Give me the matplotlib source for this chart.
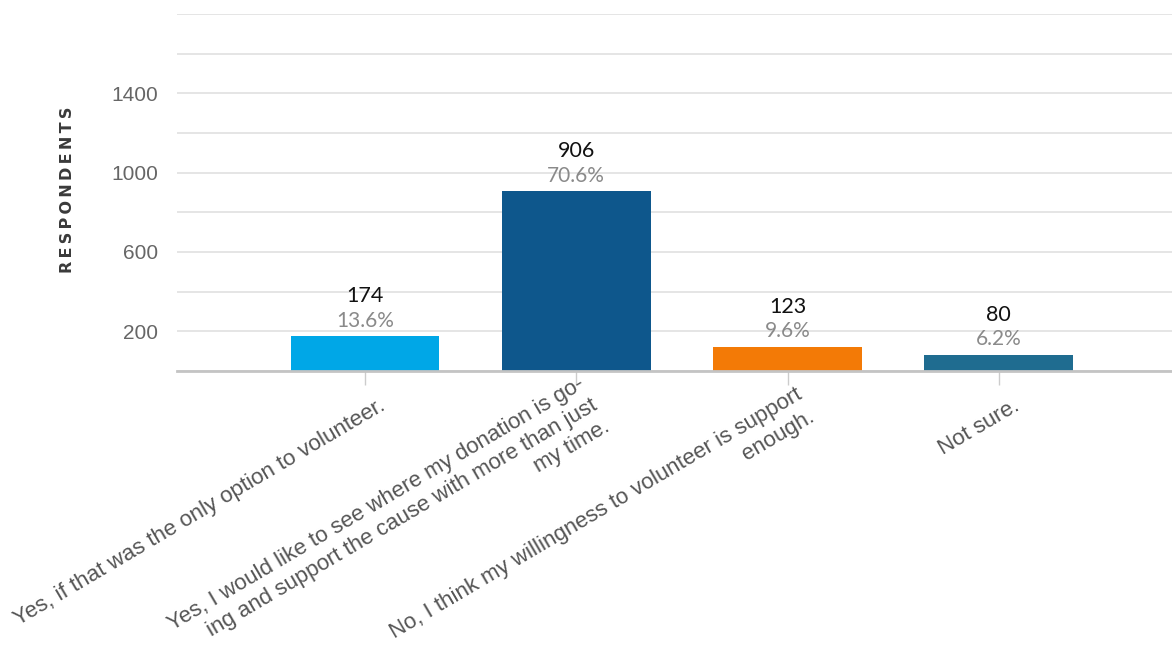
import matplotlib.pyplot as plt
import numpy as np

# survey answers and counts
answers = [
    "Yes, if that was the only option to volunteer.",
    "Yes, I would like to see where my donation is go-\ning and support the cause with more than just\nmy time.",
    "No, I think my willingness to volunteer is support\nenough.",
    "Not sure.",
]
counts = [174, 906, 123, 80]
shares = ["13.6%", "70.6%", "9.6%", "6.2%"]
colors = ["#00a7e7", "#0e578c", "#f37a06", "#1f6c90"]

fig = plt.figure(figsize=(11.72, 6.54), dpi=100)
ax = fig.add_axes([0.151, 0.4327, 0.849, 0.546])

x = np.arange(len(counts))
ax.bar(x, counts, width=0.705, color=colors, zorder=3)

ax.set_ylim(0, 1800)
ax.set_xlim(-0.89, 3.82)
ax.set_yticks(np.arange(0, 1801, 200), minor=True)
ax.set_yticks([200, 600, 1000, 1400])
ax.set_yticklabels(["200", "600", "1000", "1400"], family="Liberation Sans")
ax.grid(axis="y", which="both", color="#dedede", linewidth=1.1, zorder=0)
ax.tick_params(axis="y", which="both", length=0, pad=13.7, labelsize=15, labelcolor="#666666")

for s in ["top", "right", "left"]:
    ax.spines[s].set_visible(False)
ax.spines["bottom"].set_color("#c4c4c4")
ax.spines["bottom"].set_linewidth(2)
ax.spines["bottom"].set_zorder(4)

# category labels: rotated, block centred a bit right of and below each tick
ax.set_xticks(x)
ax.set_xticklabels([])
ax.tick_params(axis="x", length=10, width=1, color="#cccccc")
for xi, lab in zip(x, answers):
    ax.annotate(lab, (xi, 0), xycoords=("data", "axes fraction"),
                xytext=(13.7, -23.8), textcoords="offset points",
                rotation=30.5, rotation_mode="anchor", ha="right", va="center",
                multialignment="right", linespacing=1.25,
                fontsize=16, color="#555555", family="Liberation Sans")

for xi, c, p in zip(x, counts, shares):
    ax.annotate(p, (xi, c), xytext=(0, 7), textcoords="offset points", ha="center", va="baseline",
                fontsize=15, color="#8a8a8a", family="Lato")
    ax.annotate(str(c), (xi, c), xytext=(0, 24.5), textcoords="offset points", ha="center",
                va="baseline", fontsize=15.5, color="#111111", family="Lato")

fig.text(0.058, 0.71, "\u2009".join("RESPONDENTS"), rotation=90, ha="center", va="center",
         fontsize=11.5, fontweight="bold", color="#3a3a3a", family="DejaVu Sans")

fig.savefig("out.png", dpi=100, facecolor="white")
